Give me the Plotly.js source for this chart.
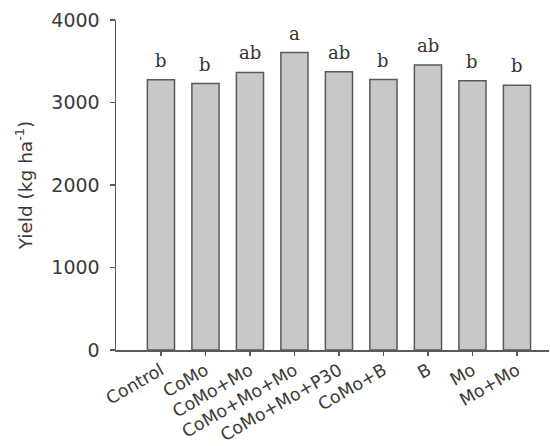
<!DOCTYPE html>
<html>
<head>
<meta charset="utf-8">
<script src="https://cdn.plot.ly/plotly-3.0.1.min.js"></script>
<style>html,body{margin:0;padding:0;background:#fff;}</style>
</head>
<body>
<div id="chart" style="width:550px;height:446px;"></div>
<script>
const categories = ["Control", "CoMo", "CoMo+Mo", "CoMo+Mo+Mo", "CoMo+Mo+P30", "CoMo+B", "B", "Mo", "Mo+Mo"];
const yieldValues = [3275, 3230, 3365, 3605, 3372, 3278, 3455, 3265, 3210];
const groupLetters = ["b", "b", "ab", "a", "ab", "b", "ab", "b", "b"];
const yTickValues = [0, 1000, 2000, 3000, 4000];

const trace = {
  type: "bar",
  x: categories,
  y: yieldValues,
  marker: {color: "#c8c8c8", line: {color: "#5a5a5a", width: 1.5}},
  hoverinfo: "x+y"
};

const letterAnnotations = categories.map((c, i) => ({
  x: c, y: yieldValues[i], xref: "x", yref: "y",
  text: groupLetters[i], showarrow: false,
  yanchor: "bottom", yshift: 7,
  font: {family: "DejaVu Serif", size: 18, color: "#333"}
}));

const layout = {
  width: 550, height: 446,
  margin: {l: 116, r: 1, t: 20, b: 96},
  paper_bgcolor: "#fff", plot_bgcolor: "#fff",
  showlegend: false,
  bargap: 0.39,
  annotations: letterAnnotations,
  xaxis: {
    type: "category",
    range: [-1.01, 8.72],
    showline: true, linecolor: "#5a5a5a", linewidth: 1.5,
    ticks: "outside", ticklen: 4, tickcolor: "#5a5a5a", tickwidth: 1.2,
    tickangle: -30,
    ticklabelstandoff: -2,
    tickfont: {family: "DejaVu Sans", size: 17.5, color: "#3a3a3a"},
    showgrid: false, zeroline: false, automargin: false
  },
  yaxis: {
    range: [0, 4000],
    tickvals: yTickValues,
    ticktext: yTickValues.map(String),
    showline: true, linecolor: "#5a5a5a", linewidth: 1.5,
    ticks: "outside", ticklen: 5, tickcolor: "#5a5a5a", tickwidth: 1.2,
    tickfont: {family: "DejaVu Sans", size: 19, color: "#3a3a3a"},
    ticklabelstandoff: 6,
    showgrid: false, zeroline: false, automargin: false,
    title: {text: "Yield (kg ha<sup>-1</sup>)", font: {family: "DejaVu Sans", size: 18.5, color: "#3a3a3a"}, standoff: 14}
  }
};

Plotly.newPlot("chart", [trace], layout, {displayModeBar: false, staticPlot: true});
</script>
</body>
</html>
